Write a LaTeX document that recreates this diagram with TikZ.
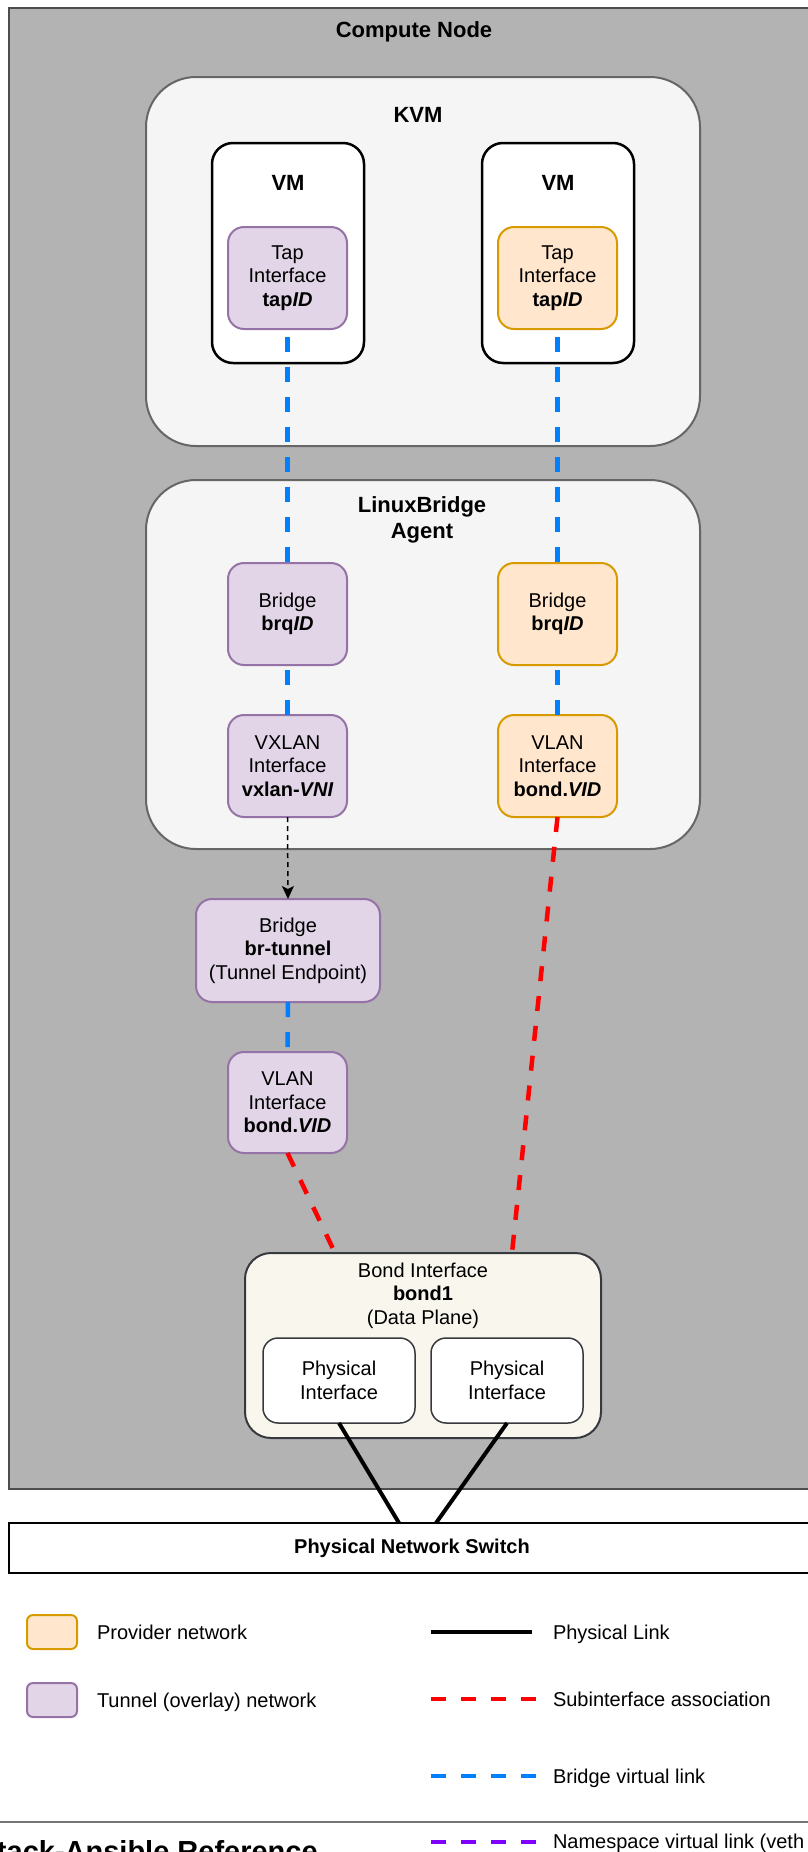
\documentclass[tikz,border=0pt]{standalone}
\usepackage{fontspec}
\setmainfont{Liberation Sans}
\usetikzlibrary{arrows.meta}
\definecolor{cngray}{HTML}{B3B3B3}
\definecolor{cnborder}{HTML}{4D4D4D}
\definecolor{boxfill}{HTML}{F5F5F5}
\definecolor{boxdraw}{HTML}{666666}
\definecolor{tunfill}{HTML}{E1D5E7}
\definecolor{tundraw}{HTML}{9673A6}
\definecolor{provfill}{HTML}{FFE6CC}
\definecolor{provdraw}{HTML}{D79B00}
\definecolor{bondfill}{HTML}{F9F7ED}
\definecolor{bonddraw}{HTML}{36393D}
\definecolor{bluelink}{HTML}{007FFF}
\definecolor{redlink}{HTML}{FF0000}
\definecolor{purplelink}{HTML}{7F00FF}
\definecolor{sepgray}{HTML}{757575}
\newcommand{\mybody}{\fontsize{20}{23.5}\selectfont}
\newcommand{\mytitle}{\fontsize{22}{26}\selectfont\bfseries}
\begin{document}
\begin{tikzpicture}[x=1pt,y=-1pt,
  every node/.style={inner sep=0pt, outer sep=0pt},
  cnode/.style={draw=cnborder, fill=cngray, line width=2.5pt},
  container/.style={draw=boxdraw, fill=boxfill, line width=2pt, rounded corners=50pt, minimum width=554pt, minimum height=369pt},
  vmbox/.style={draw=black, fill=white, line width=2.5pt, rounded corners=21pt, minimum width=152pt, minimum height=220pt},
  tunbox/.style={draw=tundraw, fill=tunfill, line width=2pt, rounded corners=16pt, align=center, font=\mybody, minimum width=119pt, minimum height=102pt},
  provbox/.style={draw=provdraw, fill=provfill, line width=2pt, rounded corners=16pt, align=center, font=\mybody, minimum width=119pt, minimum height=102pt},
  bondbox/.style={draw=bonddraw, fill=bondfill, line width=2pt, rounded corners=26pt},
  physbox/.style={draw=bonddraw, fill=white, line width=1.5pt, rounded corners=15pt, align=center, font=\mybody, minimum width=152pt, minimum height=85pt},
  switchbox/.style={draw=black, fill=white, line width=2.5pt, font=\fontsize{20}{23.5}\selectfont\bfseries},
  titletext/.style={font=\mytitle, align=center},
  bodytext/.style={font=\mybody, align=center},
  legtext/.style={font=\mybody, anchor=base west},
  bridgelink/.style={draw=bluelink, line width=4.5pt, dash pattern=on 15pt off 15pt},
  sublink/.style={draw=redlink, line width=4.5pt, dash pattern=on 15pt off 15pt},
  nslink/.style={draw=purplelink, line width=4.5pt, dash pattern=on 15pt off 15pt},
  physlink/.style={draw=black, line width=4pt},
  arrowlink/.style={draw=black, line width=1.5pt, dash pattern=on 5pt off 4pt, -{Stealth[length=13pt,width=12pt,inset=3pt]}},
  swatchprov/.style={draw=provdraw, fill=provfill, line width=2pt, rounded corners=6pt, minimum width=50pt, minimum height=34pt},
  swatchtun/.style={draw=tundraw, fill=tunfill, line width=2pt, rounded corners=6pt, minimum width=50pt, minimum height=34pt}
]
\useasboundingbox (0,0) rectangle (808,1852);
\clip (0,0) rectangle (808,1852);

% Compute node
\node[cnode, minimum width=812pt, minimum height=1481pt] (compute) at (415,748.5) {};
\node[titletext] (computeT) at (414,32) {Compute Node};

% KVM
\node[container] (kvm) at (423,261.5) {};
\node[titletext] (kvmT) at (418,115) {KVM};
\node[vmbox] (vmL) at (288,253) {};
\node[vmbox] (vmR) at (558,253) {};
\node[titletext] (vmLT) at (288,183) {VM};
\node[titletext] (vmRT) at (558,183) {VM};
\node[tunbox] (tapL) at (287.5,278) {Tap\\Interface\\{\bfseries tap\itshape ID}};
\node[provbox] (tapR) at (557.5,278) {Tap\\Interface\\{\bfseries tap\itshape ID}};

% LinuxBridge agent
\node[container] (lba) at (423,664.5) {};
\node[titletext] (lbaT) at (422,520) {LinuxBridge\\Agent};
\node[tunbox] (brL) at (287.5,614) {Bridge\\{\bfseries brq\itshape ID}};
\node[provbox] (brR) at (557.5,614) {Bridge\\{\bfseries brq\itshape ID}};
\node[tunbox] (vxL) at (287.5,766) {VXLAN\\Interface\\{\bfseries vxlan-\itshape VNI}};
\node[provbox] (vlR) at (557.5,766) {VLAN\\Interface\\{\bfseries bond.\itshape VID}};

% tunnel side below agent
\node[tunbox, minimum width=184pt, minimum height=103pt] (brT) at (288,950.5) {Bridge\\{\bfseries br-tunnel}\\(Tunnel Endpoint)};
\node[tunbox, minimum height=101pt] (vlL) at (287.5,1102.5) {VLAN\\Interface\\{\bfseries bond.\itshape VID}};

% Bond
\node[bondbox, minimum width=356pt, minimum height=185pt] (bond) at (423,1345.5) {};
\node[bodytext] (bondT) at (423,1295.5) {Bond Interface\\{\bfseries bond1}\\(Data Plane)};
\node[physbox] (phL) at (339,1380.5) {Physical\\Interface};
\node[physbox] (phR) at (507,1380.5) {Physical\\Interface};

% Switch
\node[switchbox, minimum width=806pt, minimum height=50pt] (switch) at (412,1548) {Physical Network Switch};

% connector end points
\coordinate (bondInL) at (335,1253);
\coordinate (bondInR) at (512,1253);
\coordinate (swL) at (399,1523);
\coordinate (swR) at (436,1523);

% connectors
\draw[bridgelink, dash phase=22pt] (tapL.south) -- (brL.north);
\draw[bridgelink, dash phase=22pt] (tapR.south) -- (brR.north);
\draw[bridgelink, dash phase=25pt] (brL.south) -- (vxL.north);
\draw[bridgelink, dash phase=25pt] (brR.south) -- (vlR.north);
\draw[bridgelink] (brT.south) -- (vlL.north);
\draw[arrowlink] (vxL.south) -- (brT.north);
\draw[sublink] (vlR.south) -- (bondInR);
\draw[sublink] (vlL.south) -- (bondInL);
\draw[physlink] (phL.south) -- (swL);
\draw[physlink] (phR.south) -- (swR);

% legend
\node[swatchprov] (lgProv) at (52,1632) {};
\node[legtext] (lgProvT) at (97,1639) {Provider network};
\node[swatchtun] (lgTun) at (52,1700) {};
\node[legtext] (lgTunT) at (97,1707) {Tunnel (overlay) network};

\coordinate (lgPhA) at (431,1632);
\coordinate (lgPhB) at (532,1632);
\draw[physlink] (lgPhA) -- (lgPhB);
\node[legtext] (lgPhT) at (553,1639) {Physical Link};

\coordinate (lgSubA) at (431,1699);
\coordinate (lgSubB) at (538,1699);
\draw[sublink] (lgSubA) -- (lgSubB);
\node[legtext] (lgSubT) at (553,1706) {Subinterface association};

\coordinate (lgBrA) at (431,1776);
\coordinate (lgBrB) at (538,1776);
\draw[bridgelink] (lgBrA) -- (lgBrB);
\node[legtext] (lgBrT) at (553,1783) {Bridge virtual link};

\coordinate (sepA) at (0,1822);
\coordinate (sepB) at (808,1822);
\draw[draw=sepgray, line width=1.5pt] (sepA) -- (sepB);

\coordinate (lgNsA) at (431,1842);
\coordinate (lgNsB) at (538,1842);
\draw[nslink] (lgNsA) -- (lgNsB);
\node[legtext] (lgNsT) at (553,1848) {Namespace virtual link (veth};

\node[anchor=base west, font=\fontsize{29}{33}\selectfont\bfseries] (refT) at (-3,1861) {tack-Ansible Reference};
\end{tikzpicture}
\end{document}
